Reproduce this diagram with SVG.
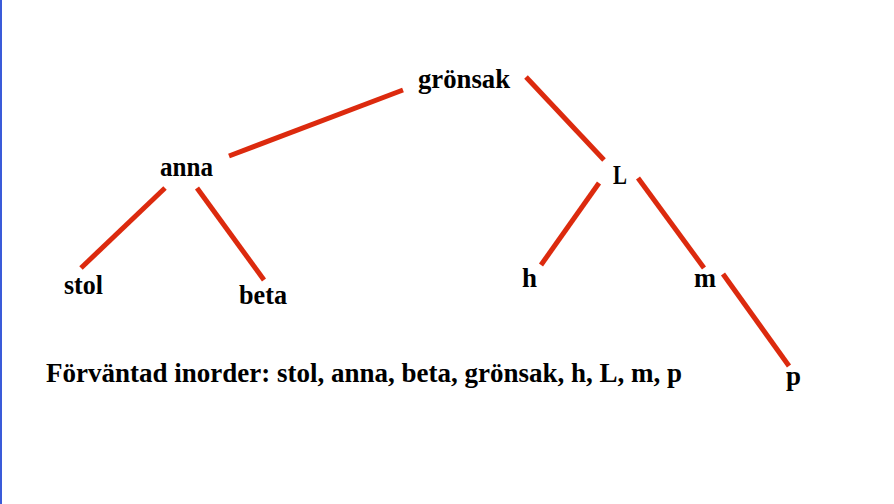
<svg xmlns="http://www.w3.org/2000/svg" width="894" height="504" viewBox="0 0 894 504">
<style>
.lbl{font-family:"Liberation Serif","Times New Roman",serif;font-weight:bold;font-size:28px;fill:#000}
.edge{stroke:#dc2a0e;stroke-width:5;stroke-linecap:butt;fill:none}
</style>
<rect x="0" y="0" width="894" height="504" fill="#ffffff"/>
<rect x="0" y="0" width="2" height="504" fill="#3a5bd9"/>
<g id="connectors">
<line class="edge" x1="403" y1="90" x2="229" y2="156"/>
<line class="edge" x1="526" y1="77" x2="604" y2="160"/>
<line class="edge" x1="165" y1="188" x2="81" y2="268"/>
<line class="edge" x1="197" y1="188" x2="264" y2="280"/>
<line class="edge" x1="599" y1="183" x2="541" y2="265"/>
<line class="edge" x1="638" y1="178" x2="704" y2="268"/>
<line class="edge" x1="723" y1="274" x2="789" y2="366"/>
</g>
<g id="node-gronsak"><text class="lbl" x="418" y="88" textLength="92" lengthAdjust="spacingAndGlyphs">grönsak</text></g>
<g id="node-anna"><text class="lbl" x="160" y="176" textLength="53" lengthAdjust="spacingAndGlyphs">anna</text></g>
<g id="node-L"><text class="lbl" x="613" y="184" textLength="14" lengthAdjust="spacingAndGlyphs">L</text></g>
<g id="node-stol"><text class="lbl" x="64" y="294" textLength="39" lengthAdjust="spacingAndGlyphs">stol</text></g>
<g id="node-beta"><text class="lbl" x="239" y="304" textLength="48" lengthAdjust="spacingAndGlyphs">beta</text></g>
<g id="node-h"><text class="lbl" x="522" y="287" textLength="15" lengthAdjust="spacingAndGlyphs">h</text></g>
<g id="node-m"><text class="lbl" x="694" y="287" textLength="22" lengthAdjust="spacingAndGlyphs">m</text></g>
<g id="node-p"><text class="lbl" x="786" y="385" textLength="15" lengthAdjust="spacingAndGlyphs">p</text></g>
<g id="caption"><text class="lbl" x="46" y="382" textLength="636" lengthAdjust="spacingAndGlyphs">Förväntad inorder: stol, anna, beta, grönsak, h, L, m, p</text></g>
</svg>
